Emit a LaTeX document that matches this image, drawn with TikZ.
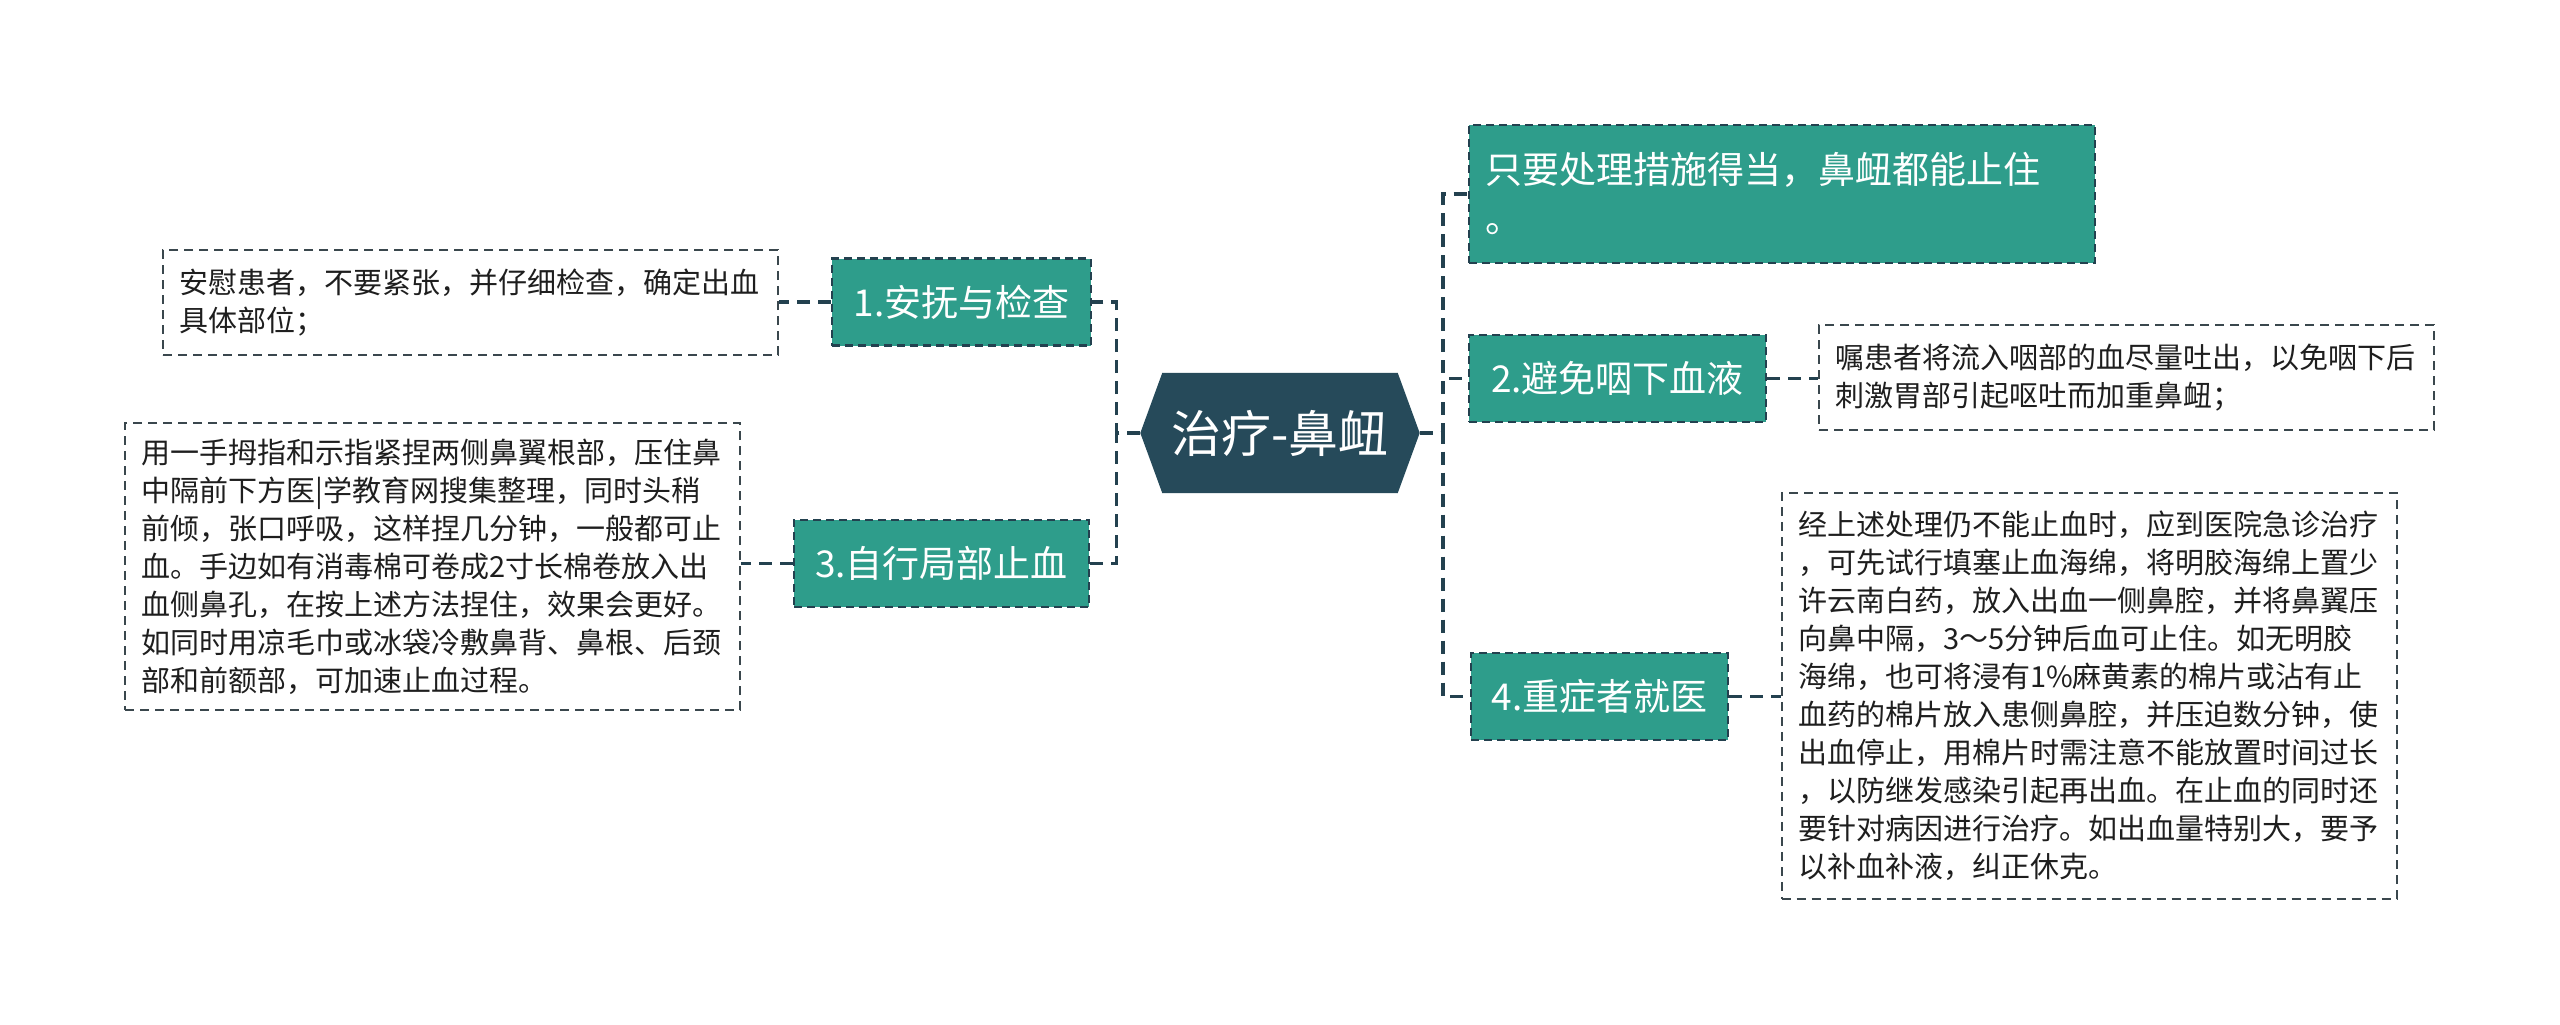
\documentclass[tikz,border=0pt]{standalone}
\usepackage{fontspec}
\setmainfont{Noto Sans CJK SC}
\usetikzlibrary{backgrounds}
\definecolor{tealA}{HTML}{2E9D8B}
\definecolor{navyA}{HTML}{264A5A}
\definecolor{lineA}{HTML}{23414F}
\definecolor{leafB}{HTML}{3A474D}
\definecolor{leafT}{HTML}{1E1E1E}
\tikzset{
  topic/.style={fill=tealA, draw=lineA, line width=2.5pt, dash pattern=on 8pt off 5pt,
    text=white, font=\fontsize{37}{49}\selectfont, inner sep=0pt, minimum height=87pt},
  leafbox/.style={draw=leafB, fill=white, line width=2pt, dash pattern=on 9pt off 6pt,
    text=leafT, font=\fontsize{29}{38}\selectfont, align=left, text width=582pt,
    inner xsep=16.5pt, inner ysep=0pt},
  conn/.style={draw=lineA, line width=3.5pt, dash pattern=on 13pt off 8pt}
}
\begin{document}
\begin{tikzpicture}[x=1pt,y=-1pt]
\useasboundingbox (0,0) rectangle (2560,1025);

% central
\node[text=white, font=\fontsize{50}{58}\selectfont, minimum width=279pt, minimum height=120pt, inner sep=0pt] (c) at (1280,433) {治疗-鼻衄};
\begin{scope}[on background layer]
\fill[white] (0,0) rectangle (2560,1025);
\fill[navyA] (c.west) -- ([xshift=22pt]c.north west) -- ([xshift=-22pt]c.north east) -- (c.east) -- ([xshift=-22pt]c.south east) -- ([xshift=22pt]c.south west) -- cycle;
\end{scope}

% main topics
\node[topic, minimum width=259pt] (n1) at (961.5,302) {1.安抚与检查};
\node[topic, minimum width=295pt] (n3) at (941.5,563.5) {3.自行局部止血};
\node[topic, minimum width=297pt] (n2) at (1617.5,378.5) {2.避免咽下血液};
\node[topic, minimum width=257pt] (n4) at (1599.5,696.5) {4.重症者就医};
\node[topic, minimum width=626pt, minimum height=138pt, text width=594pt, align=left, inner xsep=16pt] (top) at (1782,194) {只要处理措施得当，鼻衄都能止住\\。};

% leaves
\node[leafbox, minimum height=105pt] (l1) at (470.5,302.5) {安慰患者，不要紧张，并仔细检查，确定出血\\具体部位；};
\node[leafbox, minimum height=287pt] (l3) at (432.5,566.5) {用一手拇指和示指紧捏两侧鼻翼根部，压住鼻\\中隔前下方医|学教育网搜集整理，同时头稍\\前倾，张口呼吸，这样捏几分钟，一般都可止\\血。手边如有消毒棉可卷成2寸长棉卷放入出\\血侧鼻孔，在按上述方法捏住，效果会更好。\\如同时用凉毛巾或冰袋冷敷鼻背、鼻根、后颈\\部和前额部，可加速止血过程。};
\node[leafbox, minimum height=105pt] (l2) at (2126.5,377.5) {嘱患者将流入咽部的血尽量吐出，以免咽下后\\刺激胃部引起呕吐而加重鼻衄；};
\node[leafbox, minimum height=406pt] (l4) at (2089,696) {经上述处理仍不能止血时，应到医院急诊治疗\\，可先试行填塞止血海绵，将明胶海绵上置少\\许云南白药，放入出血一侧鼻腔，并将鼻翼压\\向鼻中隔，3～5分钟后血可止住。如无明胶\\海绵，也可将浸有1\%麻黄素的棉片或沾有止\\血药的棉片放入患侧鼻腔，并压迫数分钟，使\\出血停止，用棉片时需注意不能放置时间过长\\，以防继发感染引起再出血。在止血的同时还\\要针对病因进行治疗。如出血量特别大，要予\\以补血补液，纠正休克。};

% connectors
\draw[conn] (c.east) -- ++(23.5,0) |- (top.west);
\draw[conn] (c.east) -- ++(23.5,0) |- (n2.west);
\draw[conn] (c.east) -- ++(23.5,0) |- (n4.west);
\draw[conn] (c.west) -- ++(-24,0) |- (n1.east);
\draw[conn] (c.west) -- ++(-24,0) |- (n3.east);
\draw[conn] (n1.west) -- (n1.west -| l1.east);
\draw[conn] (n3.west) -- (n3.west -| l3.east);
\draw[conn] (n2.east) -- (n2.east -| l2.west);
\draw[conn] (n4.east) -- (n4.east -| l4.west);
\end{tikzpicture}
\end{document}
